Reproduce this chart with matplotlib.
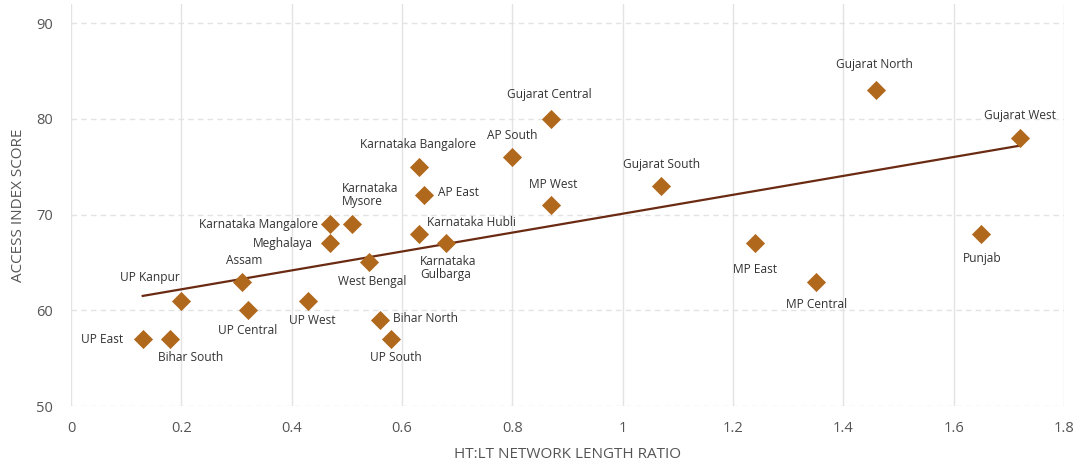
import numpy as np
import matplotlib
matplotlib.use("Agg")
import matplotlib.pyplot as plt

regions = ["UP East", "Bihar South", "UP Kanpur", "UP Central", "Assam", "UP West",
           "Karnataka Mangalore", "Karnataka\nMysore", "Meghalaya", "West Bengal",
           "Bihar North", "UP South", "Karnataka Bangalore", "AP East", "Karnataka Hubli",
           "Karnataka\nGulbarga", "AP South", "Gujarat Central", "MP West", "Gujarat South",
           "MP East", "MP Central", "Gujarat North", "Punjab", "Gujarat West"]
ratio = [0.13, 0.18, 0.20, 0.32, 0.31, 0.43,
         0.47, 0.51, 0.47, 0.54,
         0.56, 0.58, 0.63, 0.64, 0.63,
         0.68, 0.80, 0.87, 0.87, 1.07,
         1.24, 1.35, 1.46, 1.65, 1.72]
score = [57, 57, 61, 60, 63, 61,
         69, 69, 67, 65,
         59, 57, 75, 72, 68,
         67, 76, 80, 71, 73,
         67, 63, 83, 68, 78]
trend_x = [0.13, 1.72]
trend_y = [61.5, 77.2]
x_ticks = [0, 0.2, 0.4, 0.6, 0.8, 1, 1.2, 1.4, 1.6, 1.8]
x_ticklabels = ["0", "0.2", "0.4", "0.6", "0.8", "1", "1.2", "1.4", "1.6", "1.8"]
y_ticks = [50, 60, 70, 80, 90]

# label offsets in pixels (dx, dy, ha)
offsets = [(-20, 0, "right"), (20, -18, "center"), (-31, 23, "center"), (0, -20, "center"),
           (2, 21, "center"), (4, -20, "center"),
           (-12, 0, "right"), (-10, 29, "left"), (-17, 0, "right"), (3, -19, "center"),
           (13, 1, "left"), (5, -18, "center"), (-1, 22, "center"), (14, 3, "left"),
           (8, 11, "left"), (-26, -25, "left"), (0, 22, "center"), (-2, 24, "center"),
           (2, 21, "center"), (0, 21, "center"),
           (0, -26, "center"), (1, -23, "center"), (-2, 26, "center"), (1, -25, "center"),
           (0, 23, "center")]

plt.rcParams['font.family'] = ['Open Sans', 'DejaVu Sans']

fig = plt.figure(figsize=(10.82, 4.68), dpi=100)
ax = fig.add_axes([71/1082, 62/468, (1064-71)/1082, (406-4)/468])

ax.set_xlim(0, 1.8)
ax.set_ylim(50, 92)

ax.set_xticks(x_ticks)
ax.set_xticklabels(x_ticklabels)
ax.set_yticks(y_ticks)
ax.tick_params(axis='both', length=0, labelsize=10.5, labelcolor='#555555')
ax.tick_params(axis='x', pad=11)
ax.tick_params(axis='y', pad=13)
for s in ax.spines.values():
    s.set_visible(False)

ax.xaxis.grid(True, color='#e3e3e3', linewidth=1.0, linestyle='-')
ax.yaxis.grid(True, color='#e3e3e3', linewidth=1.0, linestyle=(0, (4, 3)))
ax.set_axisbelow(True)

ax.plot(trend_x, trend_y, color='#6B2A12', linewidth=1.6, zorder=2)
ax.scatter(ratio, score, marker='D', s=95, color='#B0681C', zorder=3, linewidths=0)

for name, x, y, (dx, dy, ha) in zip(regions, ratio, score, offsets):
    ax.annotate(name, (x, y), xytext=(dx, dy), textcoords='offset pixels',
                ha=ha, va='center', fontsize=8.6, color='#333333', linespacing=1.0)

ax.set_ylabel("ACCESS INDEX SCORE", fontsize=11, color='#555555', labelpad=7)
ax.set_xlabel("HT:LT NETWORK LENGTH RATIO", fontsize=11, color='#555555', labelpad=8)

fig.savefig("out.png", dpi=100)
